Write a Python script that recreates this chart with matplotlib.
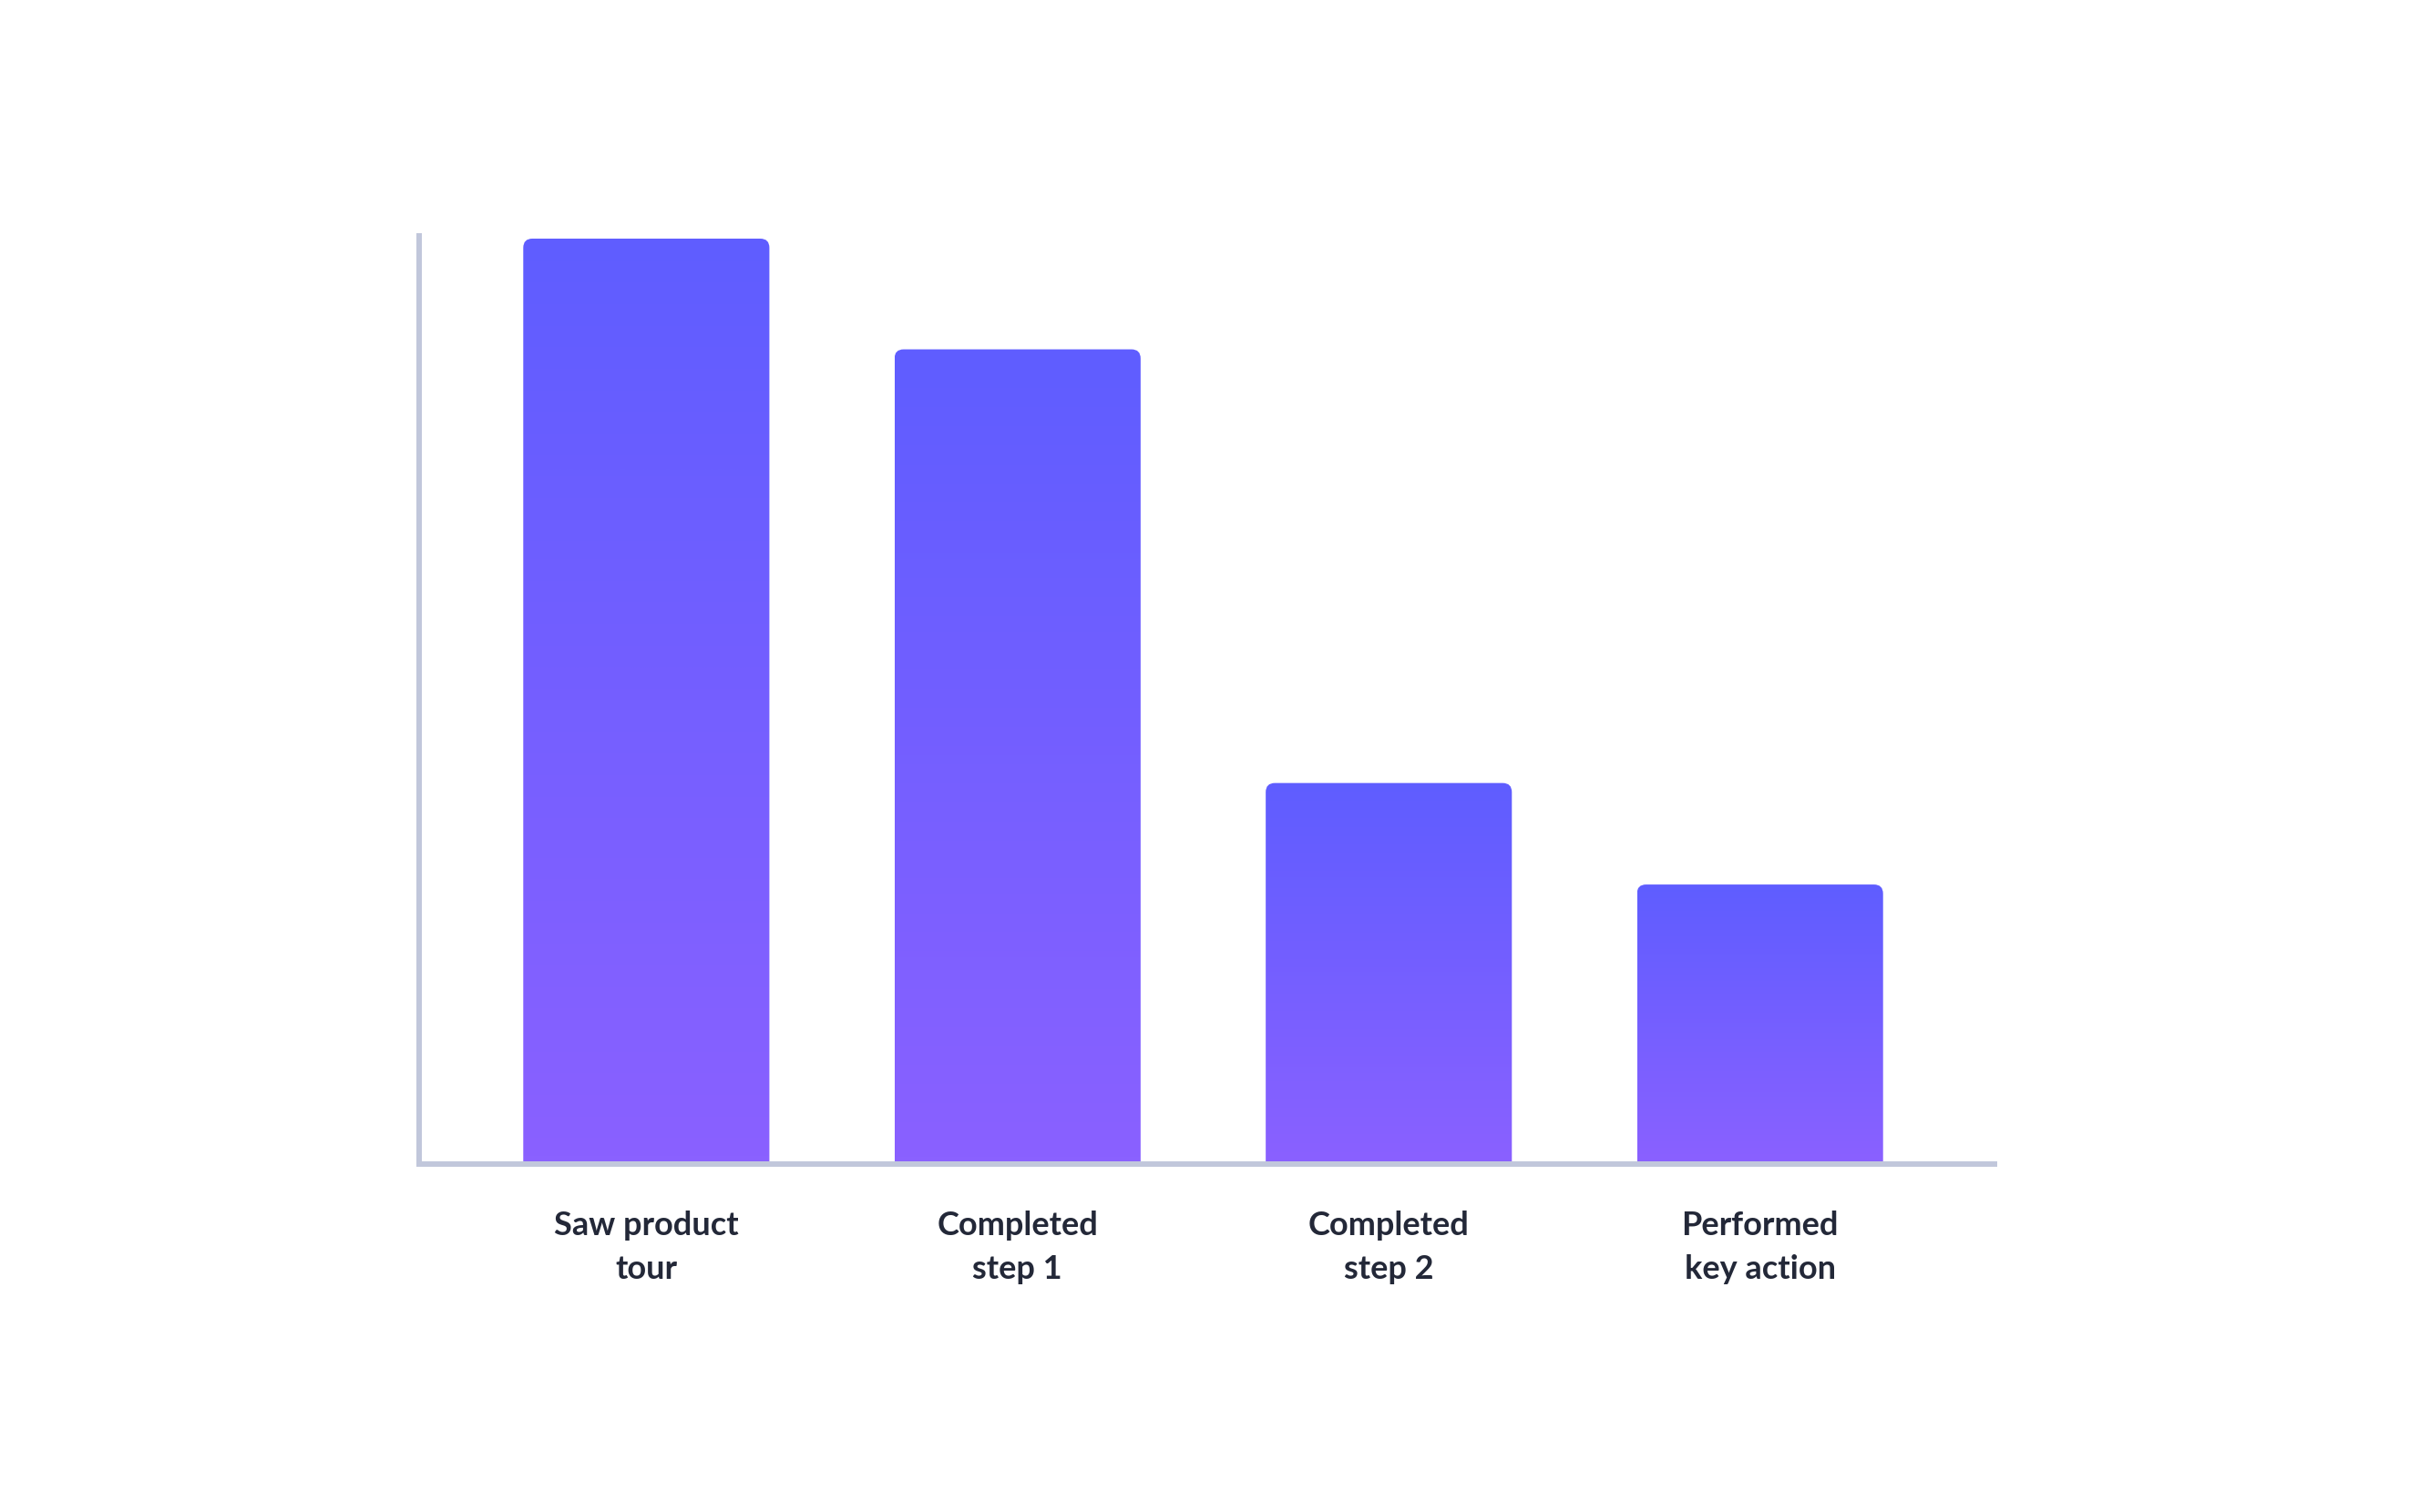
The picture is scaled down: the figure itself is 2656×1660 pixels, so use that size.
import numpy as np
import matplotlib.pyplot as plt
from matplotlib.colors import LinearSegmentedColormap
from matplotlib.patches import FancyBboxPatch

# data
steps = ['Saw product\ntour', 'Completed\nstep 1', 'Completed\nstep 2', 'Performed\nkey action']
users = [100, 88, 41, 30]

# style
top_color = '#5F5DFF'
bottom_color = '#8A61FF'
axis_color = '#C1C7DB'
text_color = '#232838'

plt.rcParams['font.family'] = ['Lato', 'DejaVu Sans']

W, H = 2656, 1660
fig = plt.figure(figsize=(W / 100, H / 100), dpi=100)
# axes box in pixels (left, bottom-from-top, right, top-from-top)
left_px, right_px, top_px, base_px = 460, 2192, 256, 1278
ax = fig.add_axes([left_px / W, (H - base_px) / H, (right_px - left_px) / W, (base_px - top_px) / H])

x = np.arange(len(steps))
ax.set_xlim(-0.612, 3.639)
ax.set_ylim(-0.296, 100.59)
for s in ax.spines.values():
    s.set_visible(False)

bars = ax.bar(x, users, width=0.663, color='none', edgecolor='none')

cmap = LinearSegmentedColormap.from_list('grad', [bottom_color, top_color])
grad = np.linspace(0, 1, 256).reshape(-1, 1)

# pixel per data unit, for circular corners
fig.canvas.draw()
p0 = ax.transData.transform((0, 0))
p1 = ax.transData.transform((1, 1))
px_x, px_y = p1[0] - p0[0], p1[1] - p0[1]
radius = 10 / px_x

for b in bars:
    x0, w, h = b.get_x(), b.get_width(), b.get_height()
    im = ax.imshow(grad, cmap=cmap, extent=(x0, x0 + w, 0, h), origin='lower',
                   aspect='auto', interpolation='bicubic', zorder=2)
    clip = FancyBboxPatch((x0, -5), w, h + 5,
                          boxstyle=f'round,pad=0,rounding_size={radius}',
                          mutation_aspect=px_x / px_y,
                          transform=ax.transData, facecolor='none', edgecolor='none')
    ax.add_patch(clip)
    im.set_clip_path(clip)

ax.set_xlim(-0.612, 3.639)
ax.set_ylim(-0.296, 100.59)

# axis lines
ax.plot([0, 0, 1], [1, 0, 0], transform=ax.transAxes, clip_on=False,
        color=axis_color, lw=4.3, solid_joinstyle='miter', solid_capstyle='butt', zorder=3)

ax.set_yticks([])
ax.set_xticks(x)
ax.set_xticklabels(steps, fontsize=26, fontweight='bold', color=text_color, linespacing=1.55)
ax.tick_params(axis='x', length=0, pad=37)

fig.savefig('out.png', dpi=100)
